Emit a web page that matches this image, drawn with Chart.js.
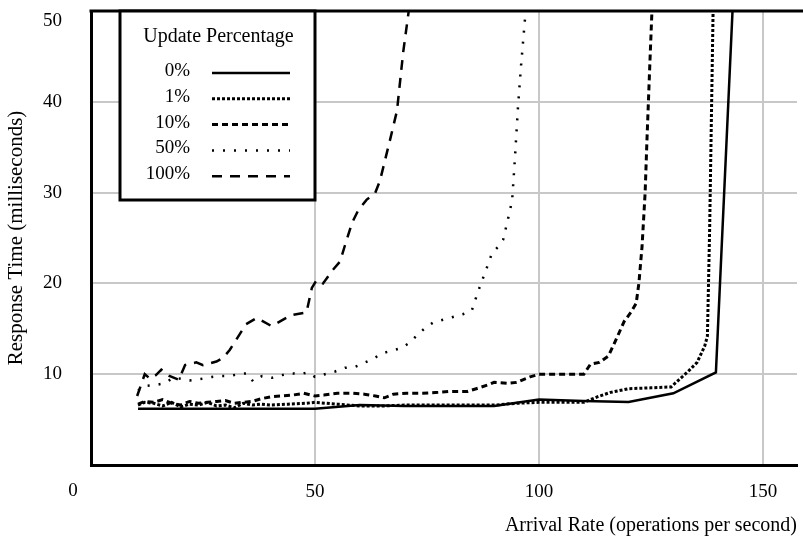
<!DOCTYPE html>
<html><head><meta charset="utf-8">
<script src="https://cdn.jsdelivr.net/npm/chart.js@4"></script>
<style>html,body{margin:0;padding:0;background:#fff;} canvas{display:block;}</style>
</head><body>
<canvas id="c" width="803" height="538"></canvas>
<script>
// ---------- DATA ----------
const seriesNames = ['0%', '1%', '10%', '50%', '100%'];
const legendTitle = 'Update Percentage';
const xTitle = 'Arrival Rate (operations per second)';
const yTitle = 'Response Time (milliseconds)';
const xTickValues = [0, 50, 100, 150];
const yTickValues = [10, 20, 30, 40, 50];

const x0 = [10.5, 20, 30, 40, 50, 60, 70, 80, 90, 100, 110, 120, 130, 139.5, 143.3];
const y0 = [6.2, 6.2, 6.2, 6.2, 6.2, 6.6, 6.5, 6.5, 6.5, 7.2, 7.05, 6.95, 7.9, 10.2, 51];

const x1 = [10.5, 12, 14, 16, 18, 20, 22, 24, 26, 28, 30, 32, 34, 36, 38, 40, 44, 48, 50, 55, 60, 65, 70, 75, 80, 85, 90, 95, 100, 105, 110, 113, 116, 120, 125, 129.5, 131.5, 133.3, 135.3, 137, 137.6, 138.1, 138.9];
const y1 = [6.6, 6.9, 6.8, 6.5, 6.9, 6.4, 6.7, 6.6, 6.9, 6.5, 6.6, 6.3, 6.8, 6.6, 6.7, 6.6, 6.7, 6.8, 6.9, 6.7, 6.5, 6.5, 6.6, 6.6, 6.6, 6.6, 6.6, 6.8, 6.9, 6.9, 6.9, 7.5, 8.0, 8.4, 8.5, 8.6, 9.5, 10.3, 11.3, 13.1, 14.2, 26, 51];

const x10 = [10.5, 12, 14, 16, 18, 20, 22, 24, 26, 28, 30, 32, 34, 36, 38, 40, 42.5, 45, 47.5, 50, 52, 55, 58.5, 61, 63.5, 65.5, 67.5, 70.5, 74, 77.5, 80, 84, 86, 88.5, 90, 93, 95, 98, 100, 105, 110, 111.5, 113.5, 115.5, 117.2, 119, 120.5, 121.7, 122.3, 123, 123.7, 124.1, 124.8, 125.3];
const y10 = [6.7, 7.0, 6.9, 7.2, 6.8, 6.6, 7.0, 6.8, 6.9, 7.0, 7.1, 6.8, 6.9, 7.0, 7.3, 7.5, 7.6, 7.7, 7.9, 7.6, 7.7, 7.9, 7.9, 7.8, 7.6, 7.4, 7.8, 7.9, 7.9, 8.0, 8.1, 8.1, 8.4, 8.8, 9.1, 9.0, 9.1, 9.7, 10, 10, 10, 11.1, 11.3, 12, 13.8, 15.8, 16.8, 17.8, 20, 24, 30, 35.7, 44.8, 51];

const x50 = [10.5, 12, 14.3, 16.5, 18.3, 20, 22, 24.7, 27, 28.8, 31, 32.8, 34.8, 36.2, 38.2, 40.4, 42.6, 44.8, 46.7, 48.4, 50, 52.2, 54.5, 56.7, 58.9, 61.2, 63, 65, 67.2, 69.4, 71.2, 72.8, 74.6, 76.4, 78.6, 80.8, 83, 85, 86.4, 87.9, 89.5, 90.8, 92, 93, 94, 94.6, 95.3, 96, 97.2];
const y50 = [8.2, 8.7, 8.8, 9.0, 9.6, 9.5, 9.3, 9.5, 9.7, 9.8, 9.8, 10, 10.1, 9.2, 9.8, 9.6, 9.9, 10.1, 10, 10.2, 9.7, 10, 10.3, 10.7, 10.8, 11.3, 11.7, 12.3, 12.6, 12.9, 13.5, 14.3, 15.1, 15.7, 16, 16.3, 16.6, 17, 19.1, 21.1, 23.3, 24, 24.8, 26.9, 29.1, 33.5, 39.3, 44, 51];

const x100 = [10.3, 12, 13.2, 14.5, 15.7, 17.5, 19.6, 21, 23.5, 25, 28, 29.5, 31, 34.6, 37, 40.3, 44.7, 48.1, 49.3, 50.4, 51.8, 54, 55.6, 56.7, 58.3, 59.6, 61.5, 63.4, 64.5, 66.7, 68.3, 69.7, 71.2];
const y100 = [7.6, 10, 9.5, 9.9, 10.5, 9.8, 9.4, 11, 11.3, 11.0, 11.4, 11.8, 12.7, 15.5, 16.2, 15.3, 16.5, 16.8, 19.5, 20.4, 20, 21.5, 22.4, 24.2, 26.7, 28, 29.2, 29.9, 31.3, 35.7, 39, 45.5, 51];

const seriesX = [x0, x1, x10, x50, x100];
const seriesY = [y0, y1, y10, y50, y100];

// ---------- STYLES ----------
const FONT = "'Liberation Serif', 'Times New Roman', serif";
const lineStyles = [
  { borderDash: [], borderWidth: 2.5 },
  { borderDash: [3, 2], borderWidth: 3 },
  { borderDash: [6, 4], borderWidth: 3 },
  { borderDash: [2, 9], borderWidth: 2.5 },
  { borderDash: [10, 8], borderWidth: 2.5 }
];

const datasets = seriesNames.map((name, i) => ({
  label: name,
  data: seriesX[i].map((x, j) => ({ x: x, y: seriesY[i][j] })),
  borderColor: '#000',
  backgroundColor: '#000',
  borderWidth: lineStyles[i].borderWidth,
  borderDash: lineStyles[i].borderDash,
  borderCapStyle: 'butt',
  pointRadius: 0,
  tension: 0,
  fill: false,
  clip: 0
}));

const topTick = yTickValues[yTickValues.length - 1];

const overlay = {
  id: 'overlay',
  afterDraw(chart) {
    const ctx = chart.ctx;
    const a = chart.chartArea;
    const xs = chart.scales.x;
    const ys = chart.scales.y;
    ctx.save();
    // top frame line
    ctx.setLineDash([]);
    ctx.strokeStyle = '#000';
    ctx.lineWidth = 3;
    ctx.beginPath();
    ctx.moveTo(a.left - 1.5, a.top);
    ctx.lineTo(chart.width, a.top);
    ctx.stroke();
    // "0" x tick label and top y tick label (kept inside the canvas)
    ctx.fillStyle = '#000';
    ctx.font = '19px ' + FONT;
    ctx.textAlign = 'center';
    ctx.textBaseline = 'middle';
    ctx.fillText(String(xTickValues[0]), xs.getPixelForValue(xTickValues[0]) - 18, a.bottom + 26);
    ctx.textAlign = 'right';
    ctx.fillText(String(topTick), a.left - 29, ys.getPixelForValue(topTick) + 10);

    // legend box
    const bx = a.left + 29, by = a.top, bw = 195, bh = 189;
    ctx.fillStyle = '#fff';
    ctx.fillRect(bx, by, bw, bh);
    ctx.strokeStyle = '#000';
    ctx.lineWidth = 3;
    ctx.strokeRect(bx, by, bw, bh);
    ctx.fillStyle = '#000';
    ctx.font = '20px ' + FONT;
    ctx.textAlign = 'center';
    ctx.fillText(legendTitle, bx + bw / 2 + 1, by + 26);
    ctx.font = '19px ' + FONT;
    chart.data.datasets.forEach((ds, i) => {
      const ty = by + 60 + i * 25.8;
      ctx.textAlign = 'right';
      ctx.fillStyle = '#000';
      ctx.fillText(ds.label, bx + 70, ty);
      ctx.strokeStyle = '#000';
      ctx.lineWidth = ds.borderWidth;
      ctx.setLineDash(ds.borderDash);
      ctx.beginPath();
      ctx.moveTo(bx + 92, ty + 2);
      ctx.lineTo(bx + 170, ty + 2);
      ctx.stroke();
    });
    ctx.restore();
  }
};

new Chart(document.getElementById('c'), {
  type: 'line',
  data: { datasets },
  options: {
    responsive: false,
    animation: false,
    devicePixelRatio: 1,
    layout: { padding: { top: 11, right: 6, left: 0, bottom: 0 } },
    plugins: { legend: { display: false }, tooltip: { enabled: false } },
    scales: {
      x: {
        type: 'linear',
        min: 0,
        max: 157.6,
        afterFit(s) { s.height = 73; s.paddingLeft = 0; s.paddingRight = 0; },
        ticks: {
          stepSize: 50,
          includeBounds: false,
          autoSkip: false,
          maxRotation: 0,
          padding: 16,
          color: '#000',
          font: { family: FONT, size: 19 },
          callback: v => (xTickValues.includes(v) && v !== 0) ? String(v) : ''
        },
        grid: {
          color: c => (c.tick && c.tick.value === 0) ? 'rgba(0,0,0,0)' : '#c8c8c8',
          lineWidth: 2,
          drawTicks: false
        },
        border: { display: true, color: '#000', width: 3 },
        title: {
          display: true,
          text: xTitle,
          align: 'end',
          color: '#000',
          font: { family: FONT, size: 20 },
          padding: { top: 0, bottom: 0 }
        }
      },
      y: {
        min: 0,
        max: 50,
        afterFit(s) { s.width = 91; s.paddingTop = 0; s.paddingBottom = 0; },
        ticks: {
          stepSize: 10,
          padding: 29,
          color: '#000',
          font: { family: FONT, size: 19 },
          callback: v => (yTickValues.includes(v) && v !== topTick) ? String(v) : ''
        },
        grid: {
          color: c => (c.tick && (c.tick.value === 0 || c.tick.value === 50)) ? 'rgba(0,0,0,0)' : '#c8c8c8',
          lineWidth: 2,
          drawTicks: false
        },
        border: { display: true, color: '#000', width: 3 },
        title: {
          display: true,
          text: yTitle,
          color: '#000',
          font: { family: FONT, size: 21 },
          padding: { top: 4, bottom: 0 }
        }
      }
    }
  },
  plugins: [overlay]
});
</script>
</body></html>
